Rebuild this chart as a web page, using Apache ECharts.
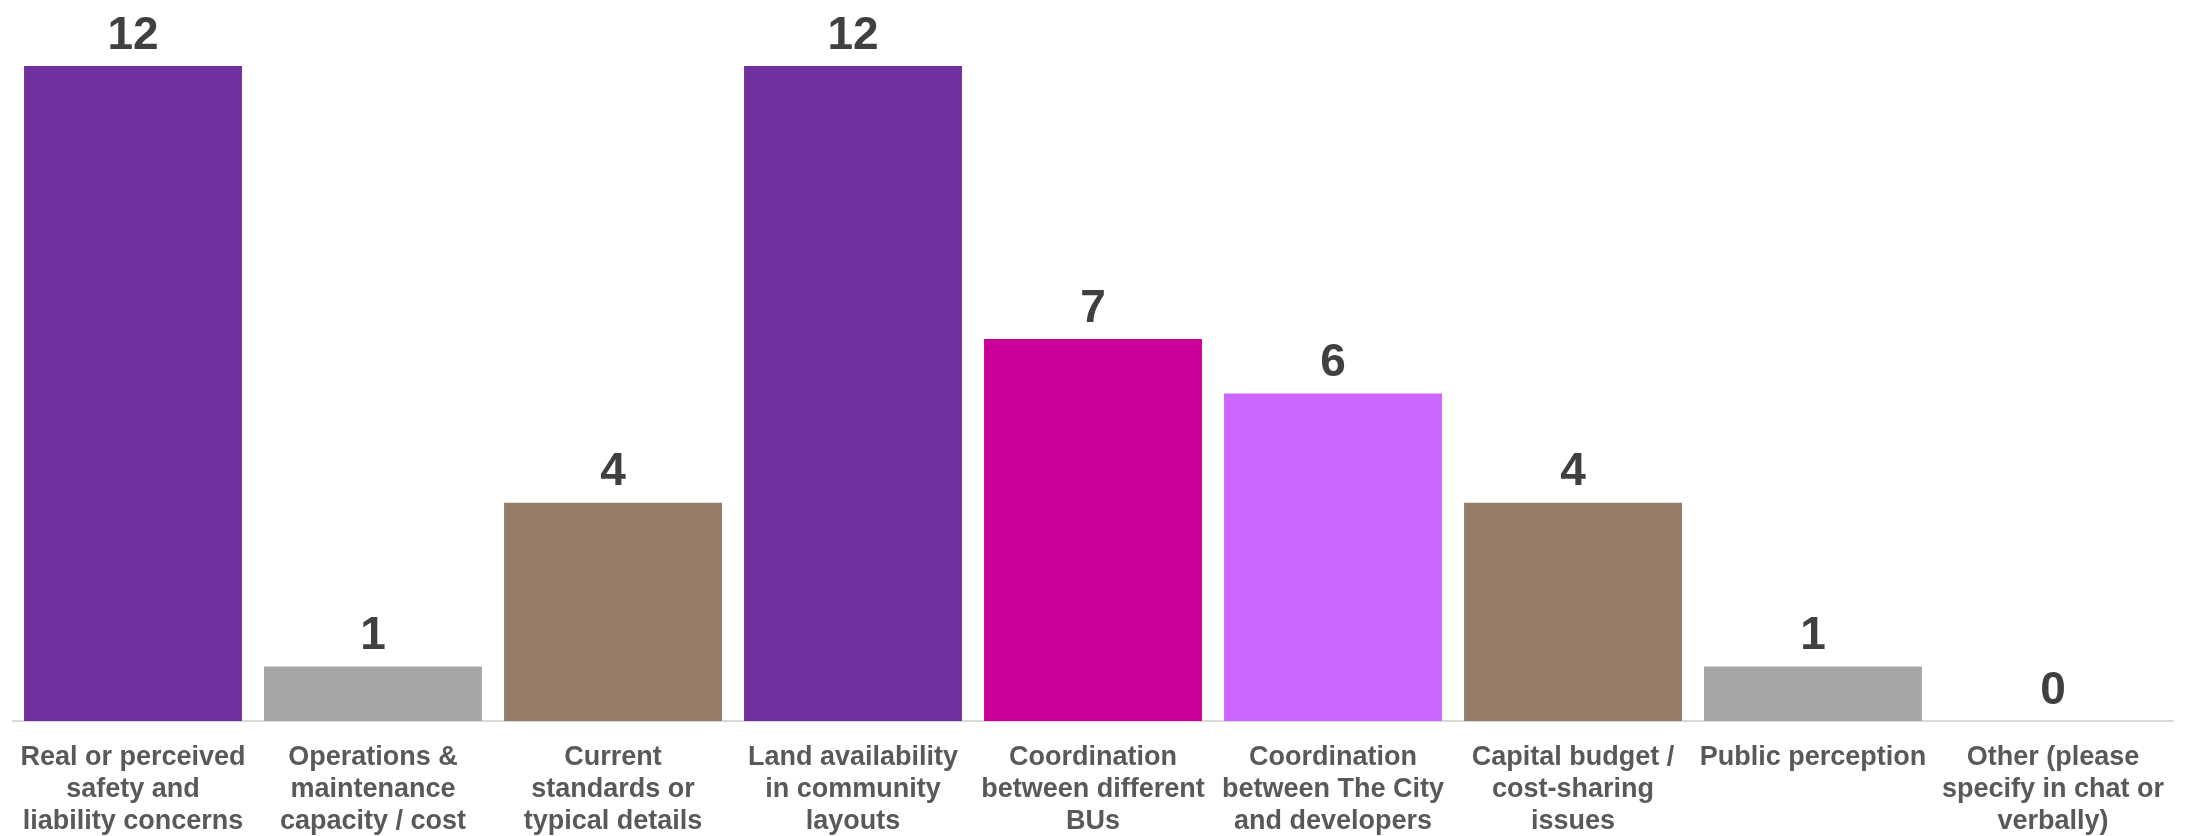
<!DOCTYPE html>
<html>
<head>
<meta charset="utf-8">
<script src="https://cdn.jsdelivr.net/npm/echarts@6/dist/echarts.min.js"></script>
<style>html,body{margin:0;padding:0;background:#fff}#c{width:2193px;height:836px}</style>
</head>
<body>
<div id="c"></div>
<script>
const categories = [
  "Real or perceived\nsafety and\nliability concerns",
  "Operations &\nmaintenance\ncapacity / cost",
  "Current\nstandards or\ntypical details",
  "Land availability\nin community\nlayouts",
  "Coordination\nbetween different\nBUs",
  "Coordination\nbetween The City\nand developers",
  "Capital budget /\ncost-sharing\nissues",
  "Public perception",
  "Other (please\nspecify in chat or\nverbally)"
];
const values = [12, 1, 4, 12, 7, 6, 4, 1, 0];
const barColors = ["#7030A0", "#A6A6A6", "#977C6A", "#7030A0", "#CC0099", "#CC66FF", "#977C6A", "#A6A6A6", "#A6A6A6"];

const chart = echarts.init(document.getElementById('c'), null, {renderer: 'canvas'});
chart.setOption({
  animation: false,
  backgroundColor: '#ffffff',
  grid: {left: 13, right: 20, top: 66, bottom: 115, containLabel: false, outerBoundsMode: 'none'},
  xAxis: {
    type: 'category',
    data: categories,
    axisLine: {show: true, lineStyle: {color: '#D9D9D9', width: 2}},
    axisTick: {show: false},
    axisLabel: {
      interval: 0,
      color: '#595959',
      fontFamily: 'Liberation Sans, Arial, sans-serif',
      fontWeight: 'bold',
      fontSize: 27,
      lineHeight: 32,
      margin: 21,
      align: 'center'
    }
  },
  yAxis: {
    type: 'value',
    min: 0,
    max: 12,
    show: false,
    splitLine: {show: false}
  },
  series: [{
    type: 'bar',
    data: values.map((v, i) => ({value: v, itemStyle: {color: barColors[i]}})),
    barCategoryGap: '9.2%',
    label: {
      show: true,
      position: 'top',
      distance: 7,
      color: '#404040',
      fontFamily: 'Liberation Sans, Arial, sans-serif',
      fontWeight: 'bold',
      fontSize: 46
    }
  }]
});
</script>
</body>
</html>
